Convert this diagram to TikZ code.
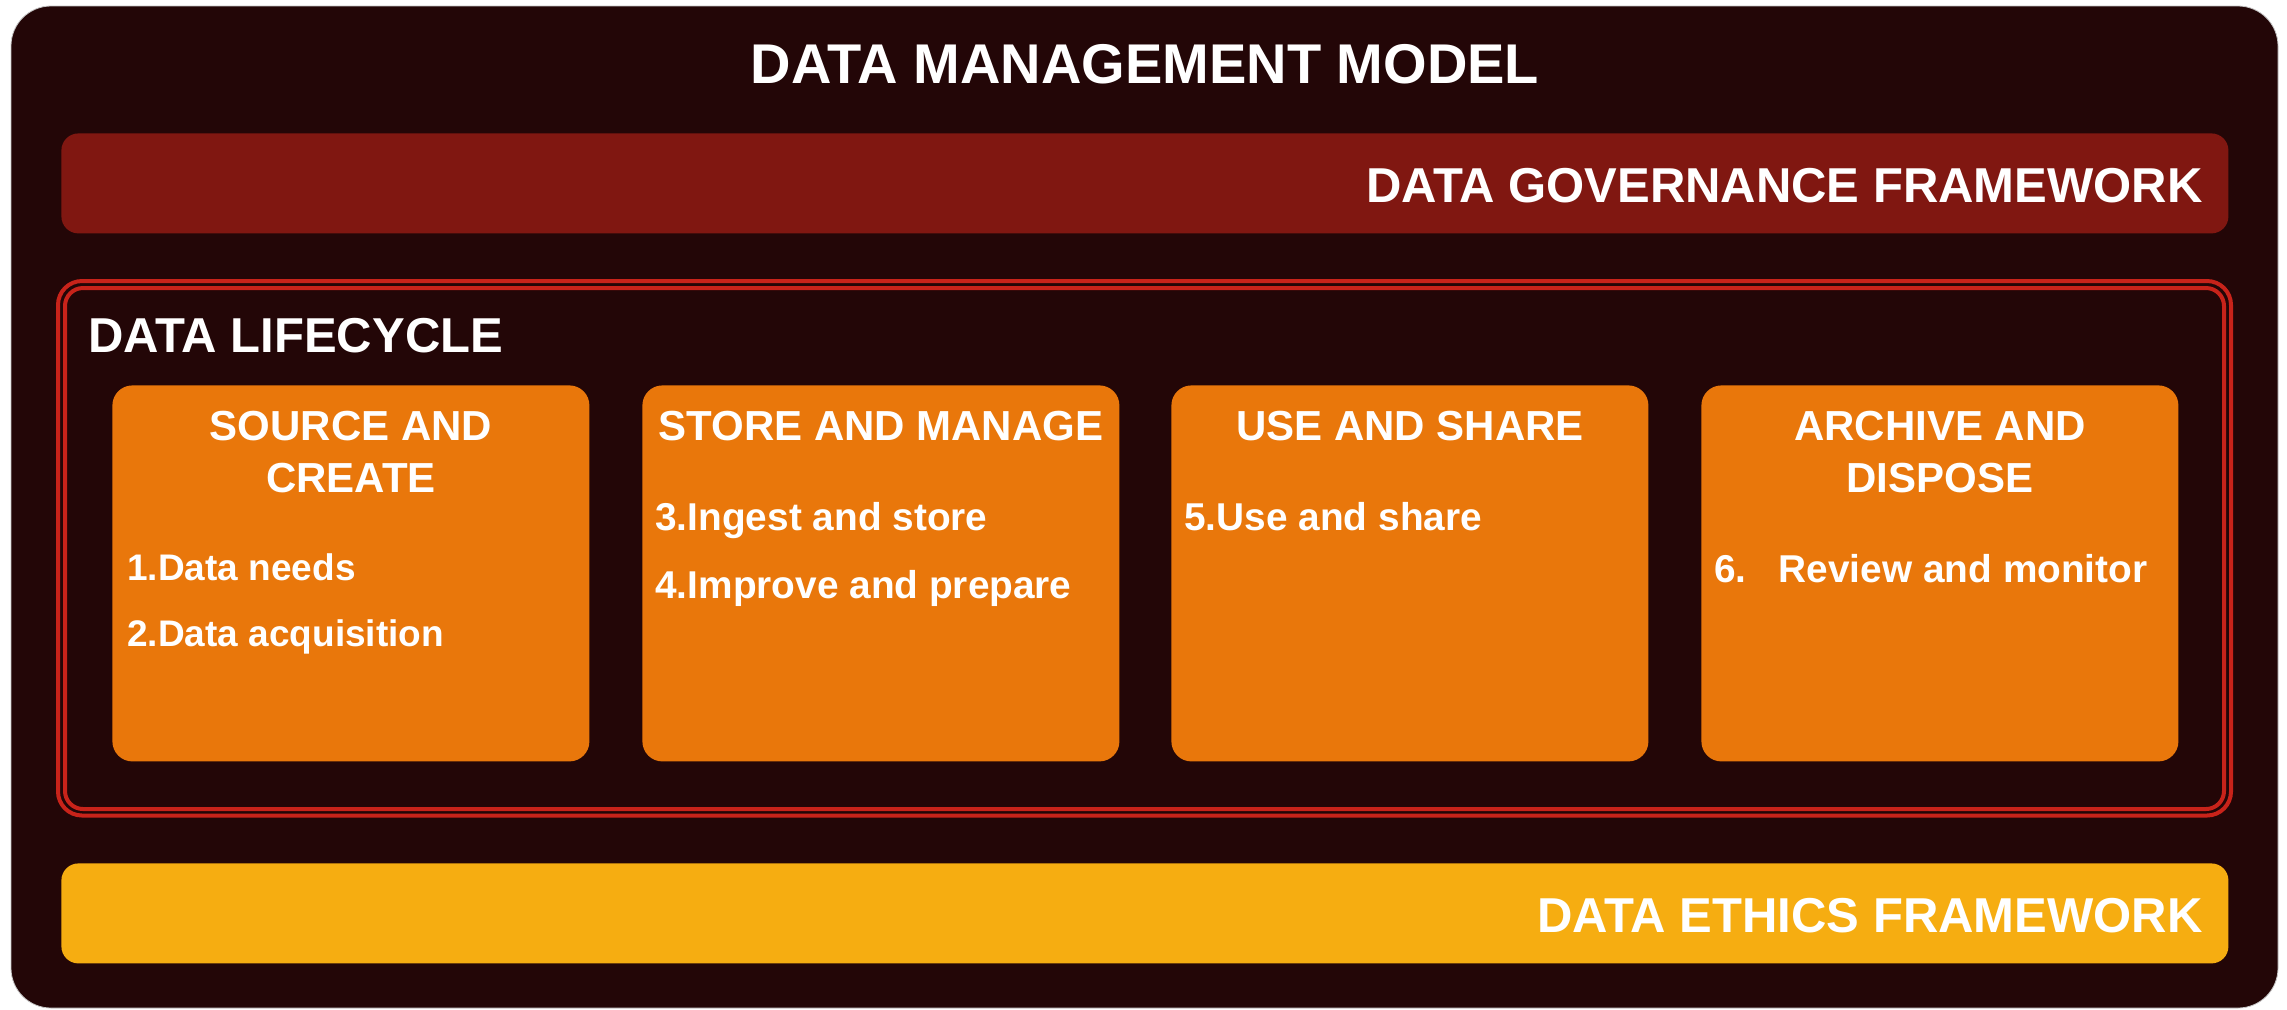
\documentclass[tikz,border=0pt]{standalone}
\usepackage{fontspec}
\setmainfont{Liberation Sans}
\usepackage{xcolor}
\definecolor{dmBack}{HTML}{230607}
\definecolor{dmGov}{HTML}{801711}
\definecolor{dmOrange}{HTML}{E9770B}
\definecolor{dmEthics}{HTML}{F6AD11}
\definecolor{dmRed}{HTML}{C8231A}
\usetikzlibrary{calc}

\begin{document}
\begin{tikzpicture}[x=0.5pt, y=-0.5pt,
    every node/.style={text=white, inner sep=0pt},
    barbox/.style={fill=#1, rounded corners=8.5pt, minimum width=1083.5pt, minimum height=50pt, anchor=north west},
    bartext/.style={font=\bfseries\fontsize{24.5}{29}\selectfont, anchor=base east},
    stagebox/.style={fill=dmOrange, rounded corners=10pt, minimum width=238.5pt, minimum height=188pt, anchor=north west},
    stagehead/.style={font=\bfseries\fontsize{21}{26}\selectfont, align=center, anchor=base},
    stageitem/.style={font=\bfseries\fontsize{19.4}{34}\selectfont, align=left, anchor=base west}]
    \useasboundingbox (0,0) rectangle (2287,1009);
    \fill[white] (0,0) rectangle (2287,1009);
    \draw[gray!45, line width=0.4pt, fill=dmBack, rounded corners=20pt] (11,6) rectangle (2278,1008);

    \node (title) [font=\bfseries\fontsize{28}{34}\selectfont, anchor=base] at (1145,83) {DATA MANAGEMENT MODEL};

    % governance and ethics bars
    \node (gov) [barbox=dmGov] at (61,133) {};
    \node (govtext) [bartext] at (2203,202) {DATA GOVERNANCE FRAMEWORK};
    \node (eth) [barbox=dmEthics] at (61,863) {};
    \node (ethtext) [bartext] at (2203,932) {DATA ETHICS FRAMEWORK};

    % lifecycle frame
    \draw[dmRed, line width=2pt, rounded corners=12pt] (58,281) rectangle (2231,815.5);
    \draw[dmRed, line width=2pt, rounded corners=9pt] (65,288) rectangle (2224,809);
    \node (cycle) [font=\bfseries\fontsize{24.5}{29}\selectfont, anchor=base west] at (88,352) {DATA LIFECYCLE};

    % base of a two-line head is its last line
    \foreach \n/\x/\d/\t in {src/112/107/{SOURCE AND\\CREATE}, sto/642/55/{STORE AND MANAGE}, use/1171/55/{USE AND SHARE}, arc/1701/107/{ARCHIVE AND\\DISPOSE}} {
      \node (\n) [stagebox] at (\x,385) {};
      \node (\n head) [stagehead] at ($(\n.north)+(0,\d)$) {\t};
    }
    \node (srcitems) [stageitem, font=\bfseries\fontsize{18.5}{33}\selectfont] at (127,646) {1.Data needs\\2.Data acquisition};
    \node (stoitems) [stageitem] at (655,598) {3.Ingest and store\\4.Improve and prepare};
    \node (useitems) [stageitem] at (1184,530) {5.Use and share};
    \node (arcitems) [stageitem] at (1714,582) {6.\hspace{16pt}Review and monitor};
  \end{tikzpicture}
\end{document}
